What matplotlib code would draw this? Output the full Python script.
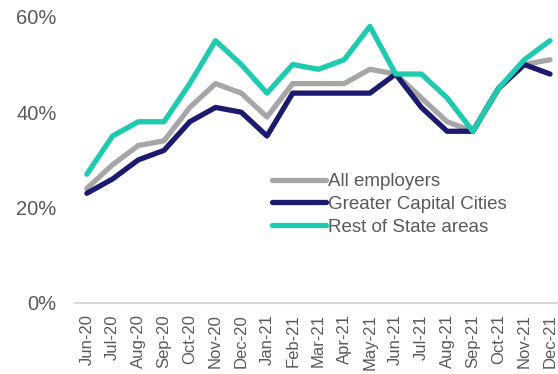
import numpy as np
from matplotlib import pyplot as plt

months = ["Jun-20", "Jul-20", "Aug-20", "Sep-20", "Oct-20", "Nov-20", "Dec-20",
          "Jan-21", "Feb-21", "Mar-21", "Apr-21", "May-21", "Jun-21", "Jul-21",
          "Aug-21", "Sep-21", "Oct-21", "Nov-21", "Dec-21"]
allEmployers = [24, 29, 33, 34, 41, 46, 44, 39, 46, 46, 46, 49, 48, 43, 38, 36, 45, 50, 51]
capitalCities = [23, 26, 30, 32, 38, 41, 40, 35, 44, 44, 44, 44, 48, 41, 36, 36, 45, 50, 48]
restOfState = [27, 35, 38, 38, 46, 55, 50, 44, 50, 49, 51, 58, 48, 48, 43, 36, 45, 51, 55]
yTicks = [0, 20, 40, 60]

plt.rcParams['font.family'] = ['Liberation Sans', 'DejaVu Sans']
textColor = '#595959'

fig = plt.figure(figsize=(5.58, 3.74), dpi=100)
ax = fig.add_axes([0.134, 0.19, 0.866, 0.765])

x = np.arange(len(months))
#Draw series in order so teal sits on top
ax.plot(x, allEmployers, color='#A6A6A6', lw=3.8, label='All employers', solid_capstyle='round', clip_on=False)
ax.plot(x, capitalCities, color='#1B1A6E', lw=3.8, label='Greater Capital Cities', solid_capstyle='round', clip_on=False)
ax.plot(x, restOfState, color='#1ECBB0', lw=3.8, label='Rest of State areas', solid_capstyle='round', clip_on=False)

ax.set_xlim(-0.47, 18.31)
ax.set_ylim(0, 60)
ax.set_xticks(x)
ax.set_xticklabels(months, rotation=90, fontsize=12, color=textColor)
ax.set_yticks(yTicks)
ax.set_yticklabels([str(t) + '%' for t in yTicks], fontsize=14.5, color=textColor)
ax.tick_params(axis='both', length=0)
ax.tick_params(axis='x', pad=8)
ax.tick_params(axis='y', pad=13)

for side in ['top', 'right', 'left']:
    ax.spines[side].set_visible(False)
ax.spines['bottom'].set_color('#D9D9D9')
ax.spines['bottom'].set_linewidth(1.5)

leg = ax.legend(loc='upper left', bbox_to_anchor=(0.392, 0.48), frameon=False, fontsize=13.5,
                handlelength=2.9, handletextpad=0.1, labelspacing=0.3, borderaxespad=0)
for t in leg.get_texts():
    t.set_color(textColor)

fig.savefig('out.png', dpi=100)
